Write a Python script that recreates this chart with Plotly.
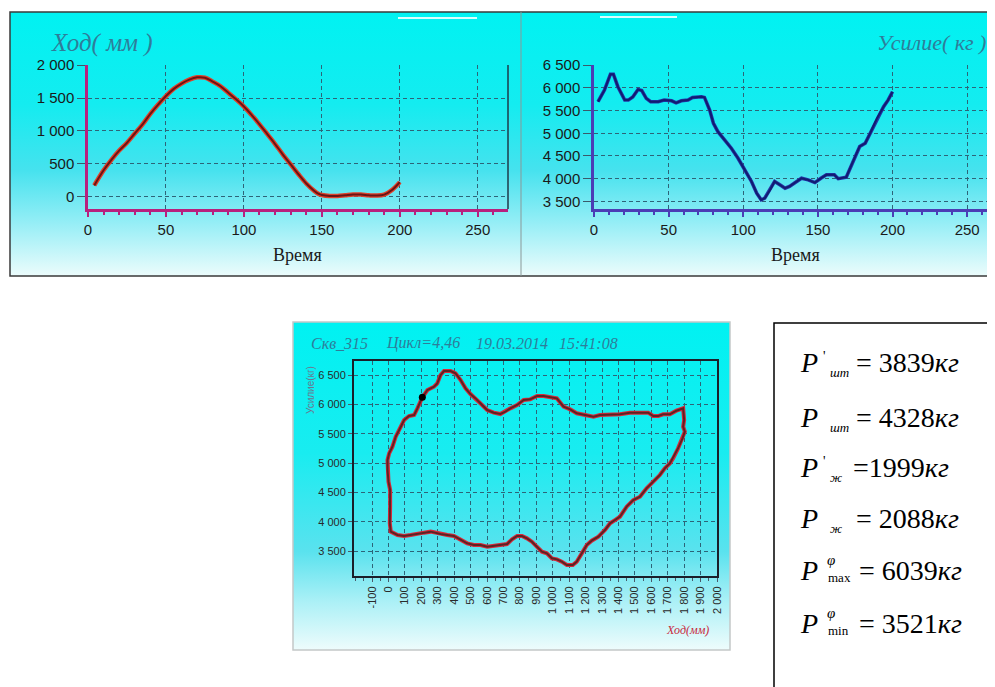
import base64
import plotly.graph_objects as go

W, H = 995, 687

# ---------------- data ----------------
# top-left: stroke (mm) vs time
t_stroke = [4, 10, 15, 20, 25, 30, 35, 40, 45, 50, 55, 60, 65, 70, 75, 80, 85, 90, 95, 100,
            105, 110, 115, 120, 125, 130, 135, 140, 145, 148, 150, 155, 160, 165, 170, 175,
            180, 185, 190, 195, 200]
stroke_mm = [170, 400, 560, 700, 820, 960, 1100, 1260, 1400, 1530, 1640, 1720, 1780, 1815, 1810,
             1750, 1680, 1580, 1480, 1370, 1240, 1100, 950, 800, 640, 490, 340, 200, 90, 40, 25,
             10, 10, 20, 30, 30, 20, 15, 30, 100, 220]

# top-right: force (kg) vs time
t_force = [2.7, 7, 11, 13, 16, 20.6, 23, 26, 29.5, 32, 35, 38, 43, 47, 52, 55, 58.5, 63, 66, 72,
           74, 77.5, 80, 83, 87.6, 92, 96.5, 101, 105.5, 109, 112, 114.4, 118, 121, 124.5, 128,
           131, 134.5, 139, 143.5, 148, 152, 155.7, 161, 163.6, 169, 171, 175, 178, 181.7, 185,
           189.6, 194, 197, 200]
force_kg = [5695, 5950, 6300, 6300, 6025, 5730, 5730, 5800, 5965, 5940, 5770, 5695, 5695, 5730,
            5715, 5670, 5715, 5730, 5790, 5805, 5790, 5510, 5220, 5035, 4850, 4670, 4450, 4195,
            3940, 3680, 3535, 3570, 3755, 3940, 3865, 3790, 3830, 3915, 4010, 3975, 3915, 4010,
            4085, 4085, 4000, 4035, 4195, 4490, 4710, 4780, 5000, 5330, 5585, 5730, 5915]

# bottom: dynamogram loop (stroke mm, force kg)
loop_x = [206, 237, 277, 297, 317, 338, 378, 408, 439, 469, 499, 530, 570, 601, 641, 681, 712,
          742, 783, 823, 863, 904, 944, 985, 1025, 1066, 1106, 1146, 1197, 1248, 1288, 1349,
          1409, 1470, 1531, 1581, 1612, 1642, 1672, 1713, 1753, 1794, 1800, 1794, 1804, 1790,
          1763, 1733, 1713, 1682, 1652, 1612, 1571, 1531, 1490, 1450, 1409, 1379, 1349, 1318,
          1278, 1237, 1207, 1177, 1146, 1122, 1086, 1055, 1025, 995, 964, 934, 904, 873, 843,
          813, 783, 752, 722, 681, 641, 601, 560, 520, 479, 439, 398, 358, 317, 257, 216, 176,
          135, 95, 55, 14, 8, 10, 10, 0, -6, -6, 4, 24, 44, 65, 95, 125, 156, 176, 196, 206]
loop_y = [6119, 6244, 6301, 6358, 6500, 6568, 6568, 6528, 6415, 6273, 6176, 6102, 5989, 5903,
          5858, 5835, 5875, 5932, 5989, 6074, 6085, 6142, 6142, 6119, 6102, 5960, 5915, 5847,
          5818, 5790, 5818, 5818, 5830, 5858, 5858, 5858, 5801, 5801, 5830, 5830, 5892, 5932,
          5733, 5619, 5534, 5420, 5250, 5080, 4994, 4909, 4795, 4682, 4568, 4426, 4369, 4256,
          4085, 4028, 3972, 3858, 3744, 3676, 3602, 3460, 3318, 3261, 3261, 3318, 3358, 3375,
          3460, 3489, 3574, 3659, 3716, 3756, 3756, 3699, 3619, 3602, 3585, 3574, 3602, 3602,
          3631, 3699, 3756, 3773, 3790, 3830, 3813, 3801, 3773, 3756, 3773, 3830, 3972, 4256,
          4540, 4682, 4881, 5051, 5165, 5278, 5449, 5562, 5733, 5801, 5818, 5932, 6074, 6119]
dot_x = [206]
dot_y = [6119]

# ticks
tl_xticks = [0, 50, 100, 150, 200, 250]
tl_yticks = [0, 500, 1000, 1500, 2000]
tl_ylabels = ["0", "500", "1 000", "1 500", "2 000"]
tr_yticks = [3500, 4000, 4500, 5000, 5500, 6000, 6500]
tr_ylabels = ["3 500", "4 000", "4 500", "5 000", "5 500", "6 000", "6 500"]
b_xticks = list(range(-100, 2001, 100))
b_xlabels = ["-100", "0", "100", "200", "300", "400", "500", "600", "700", "800", "900",
             "1 000", "1 100", "1 200", "1 300", "1 400", "1 500", "1 600", "1 700", "1 800",
             "1 900", "2 000"]
b_yticks = tr_yticks
b_ylabels = tr_ylabels

# text box values
box_values = ["3839", "4328", "1999", "2088", "6039", "3521"]
box_subs = ["шт", "шт", "ж", "ж", "max", "min"]
box_sups = ["'", "", "'", "", "φ", "φ"]

# ---------------- helpers ----------------
OFF = 8  # page body margin


def X(px):
    return (px - OFF) / W


def Y(py):
    return 1 - (py - OFF) / H


def grad_uri(stops):
    s = "".join(f'<stop offset="{o}" stop-color="{c}"/>' for o, c in stops)
    svg = ('<svg xmlns="http://www.w3.org/2000/svg" width="100" height="100" viewBox="0 0 100 100" '
           'preserveAspectRatio="none"><defs><linearGradient id="g" x1="0" y1="0" x2="0" y2="1">'
           + s + '</linearGradient></defs><rect width="100" height="100" fill="url(#g)"/></svg>')
    return "data:image/svg+xml;base64," + base64.b64encode(svg.encode()).decode()


grad_top = grad_uri([(0, "rgb(0,242,242)"), (0.35, "rgb(20,236,240)"), (0.6, "rgb(70,226,238)"),
                     (0.8, "rgb(150,238,246)"), (1, "rgb(236,252,252)")])
grad_bot = grad_uri([(0, "rgb(0,242,242)"), (0.4, "rgb(25,236,240)"), (0.7, "rgb(90,226,238)"),
                     (0.85, "rgb(170,240,246)"), (1, "rgb(238,252,252)")])

MAG = "#b8207e"
BLU = "#4b3db5"
GRID = "#2d6478"
DASH = "4px,3px"
TEAL = "#2e7d9a"
SANS = "Liberation Sans"
SERIF = "Liberation Serif"

fig = go.Figure()

# top-left traces
fig.add_trace(go.Scatter(x=t_stroke, y=stroke_mm, xaxis="x", yaxis="y", mode="lines",
                         line=dict(color="#e0402a", width=4.5, shape="spline"), hoverinfo="skip"))
fig.add_trace(go.Scatter(x=t_stroke, y=stroke_mm, xaxis="x", yaxis="y", mode="lines",
                         line=dict(color="#6a1414", width=2, shape="spline"), hoverinfo="skip"))
# top-right trace
fig.add_trace(go.Scatter(x=t_force, y=force_kg, xaxis="x2", yaxis="y2", mode="lines",
                         line=dict(color="#2336a8", width=3.5), hoverinfo="skip"))
fig.add_trace(go.Scatter(x=t_force, y=force_kg, xaxis="x2", yaxis="y2", mode="lines",
                         line=dict(color="#121c70", width=2), hoverinfo="skip"))
# bottom loop
fig.add_trace(go.Scatter(x=loop_x, y=loop_y, xaxis="x3", yaxis="y3", mode="lines",
                         line=dict(color="#d8283a", width=4), hoverinfo="skip"))
fig.add_trace(go.Scatter(x=loop_x, y=loop_y, xaxis="x3", yaxis="y3", mode="lines",
                         line=dict(color="#5a2424", width=2), hoverinfo="skip"))
fig.add_trace(go.Scatter(x=dot_x, y=dot_y, xaxis="x3", yaxis="y3", mode="markers",
                         marker=dict(color="black", size=7), hoverinfo="skip"))

tickfont_top = dict(family=SANS, size=15, color="#1a1a1a")
tickfont_bot = dict(family=SANS, size=11, color="#2a2a2a")

common_grid = dict(showgrid=True, gridcolor=GRID, griddash=DASH, gridwidth=1, zeroline=False,
                   fixedrange=True, automargin=False)

layout = dict(
    width=W, height=H, margin=dict(l=0, r=0, t=0, b=0, pad=0, autoexpand=False), autosize=False,
    paper_bgcolor="white", plot_bgcolor="rgba(0,0,0,0)", showlegend=False,
    font=dict(family=SANS),
    xaxis=dict(domain=[X(88), X(508)], range=[0, 269.4], anchor="y", tickmode="array",
               tickvals=tl_xticks, showline=True, linecolor=MAG, linewidth=3, ticks="outside",
               ticklen=5, tickwidth=1.5, tickcolor=MAG, tickfont=tickfont_top,
               minor=dict(tickmode="linear", tick0=0, dtick=10, ticks="outside", ticklen=3,
                          tickcolor=MAG, showgrid=False), **common_grid),
    yaxis=dict(domain=[Y(209), Y(65)], range=[-189, 2003], anchor="x", tickmode="array",
               tickvals=tl_yticks, ticktext=tl_ylabels, showline=True, linecolor=MAG,
               linewidth=2.5, ticks="outside", ticklen=8, tickcolor="#3a5a6a",
               tickfont=tickfont_top, **common_grid),
    xaxis2=dict(domain=[X(594), 1.0], range=[0, 274], anchor="y2", tickmode="array",
                tickvals=tl_xticks, showline=True, linecolor=BLU, linewidth=3, ticks="outside",
                ticklen=5, tickwidth=1.5, tickcolor=BLU, tickfont=tickfont_top,
                minor=dict(tickmode="linear", tick0=0, dtick=10, ticks="outside", ticklen=3,
                           tickcolor=BLU, showgrid=False), **common_grid),
    yaxis2=dict(domain=[Y(209), Y(65)], range=[3333, 6503], anchor="x2", tickmode="array",
                tickvals=tr_yticks, ticktext=tr_ylabels, showline=True, linecolor=BLU,
                linewidth=2.5, ticks="outside", ticklen=8, tickcolor="#3a5a6a",
                tickfont=tickfont_top, **common_grid),
    xaxis3=dict(domain=[X(354), X(717)], range=[-210, 2000], anchor="y3", tickmode="array",
                tickvals=b_xticks, ticktext=b_xlabels, tickangle=-90, showline=True, mirror=True,
                linecolor="#1a1f2a", linewidth=2, ticks="outside", ticklen=4,
                tickcolor="#4a5a6a", tickfont=tickfont_bot,
                minor=dict(tickmode="linear", tick0=0, dtick=50, ticks="outside", ticklen=3,
                           tickcolor="#4a5a6a", showgrid=False), **common_grid),
    yaxis3=dict(domain=[Y(576), Y(361)], range=[3074, 6739], anchor="x3", tickmode="array",
                tickvals=b_yticks, ticktext=b_ylabels, showline=True, mirror=True,
                linecolor="#1a1f2a", linewidth=2, ticks="outside", ticklen=4,
                tickcolor="#4a5a6a", tickfont=tickfont_bot, **common_grid),
)

images = [
    dict(source=grad_top, xref="paper", yref="paper", x=X(10), y=Y(12), sizex=X(1003) - X(10),
         sizey=(276 - 12) / H, xanchor="left", yanchor="top", sizing="stretch", layer="below"),
    dict(source=grad_bot, xref="paper", yref="paper", x=X(293), y=Y(322), sizex=X(730) - X(293),
         sizey=(650 - 322) / H, xanchor="left", yanchor="top", sizing="stretch", layer="below"),
]

shapes = [
    # top frame
    dict(type="rect", xref="paper", yref="paper", x0=X(10), x1=X(1010), y0=Y(276), y1=Y(12),
         line=dict(color="#3a3a3a", width=1.5), fillcolor="rgba(0,0,0,0)"),
    # divider
    dict(type="line", xref="paper", yref="paper", x0=X(521), x1=X(521), y0=Y(276), y1=Y(12),
         line=dict(color="#8a9898", width=1)),
    # right border of left plot
    dict(type="line", xref="paper", yref="paper", x0=X(508), x1=X(508), y0=Y(209), y1=Y(65),
         line=dict(color="#1e3a4a", width=1.5)),
    # small highlights
    dict(type="line", xref="paper", yref="paper", x0=X(398), x1=X(477), y0=Y(18), y1=Y(18),
         line=dict(color="rgba(255,255,255,0.85)", width=2)),
    dict(type="line", xref="paper", yref="paper", x0=X(600), x1=X(677), y0=Y(17), y1=Y(17),
         line=dict(color="rgba(255,255,255,0.85)", width=2)),
    # bottom chart frame
    dict(type="rect", xref="paper", yref="paper", x0=X(293), x1=X(730), y0=Y(650), y1=Y(322),
         line=dict(color="#c4c8c8", width=1.5), fillcolor="rgba(0,0,0,0)"),
    # text box
    dict(type="rect", xref="paper", yref="paper", x0=X(774), x1=X(1015), y0=Y(705), y1=Y(323),
         line=dict(color="black", width=1.5), fillcolor="white"),
]


def ann(text, px, py, size, color="#1a1a1a", family=SANS, xanchor="center", angle=0):
    return dict(text=text, x=X(px), y=Y(py), xref="paper", yref="paper", showarrow=False,
                xanchor=xanchor, yanchor="middle", textangle=angle, borderpad=0,
                font=dict(family=family, size=size, color=color))


annotations = [
    ann("<i>Ход( мм )</i>", 50, 43, 25, TEAL, SERIF, "left"),
    ann("<i>Усилие( кг )</i>", 876, 43, 22, TEAL, SERIF, "left"),
    ann("Время", 297, 255, 18, "#1a1a1a", SERIF),
    ann("Время", 795, 255, 18, "#1a1a1a", SERIF),
    ann("<i>Скв_315</i>", 310, 343, 16, TEAL, SERIF, "left"),
    ann("<i>Цикл=4,46</i>", 385, 343, 16, TEAL, SERIF, "left"),
    ann("<i>19.03.2014</i>", 475, 343, 16, TEAL, SERIF, "left"),
    ann("<i>15:41:08</i>", 558, 343, 16, TEAL, SERIF, "left"),
    ann("Усилие(кг)", 310, 390, 10, "#6a7890", SANS, "center", -90),
    ann("<i>Ход(мм)</i>", 687, 630, 12, "#c8283c", SERIF),
]

baselines = [372, 427, 477, 528, 580, 633]
eq_x = [855, 855, 852, 855, 858, 858]
for i, (val, sub, sup) in enumerate(zip(box_values, box_subs, box_sups)):
    b = baselines[i]
    annotations.append(ann("<i>P</i>", 799, b - 9.5, 28, "black", SERIF, "left"))
    if sub in ("max", "min"):
        annotations.append(ann(sub, 827, b - 3, 13, "black", SERIF, "left"))
    else:
        annotations.append(ann(f"<i>{sub}</i>", 829, b + 0.5, 13, "black", SERIF, "left"))
    if sup == "'":
        annotations.append(ann("'", 822, b - 16, 14, "black", SERIF, "left"))
    elif sup:
        annotations.append(ann(f"<i>{sup}</i>", 826, b - 20, 15, "black", SERIF, "left"))
    sep = "=" if i == 2 else "= "
    annotations.append(ann(f"{sep}{val}<i>кг</i>", eq_x[i], b - 9.5, 28, "black", SERIF, "left"))

layout["images"] = images
layout["shapes"] = shapes
layout["annotations"] = annotations
fig.update_layout(**layout)

fig.write_html("out.html", config={"displayModeBar": False})
